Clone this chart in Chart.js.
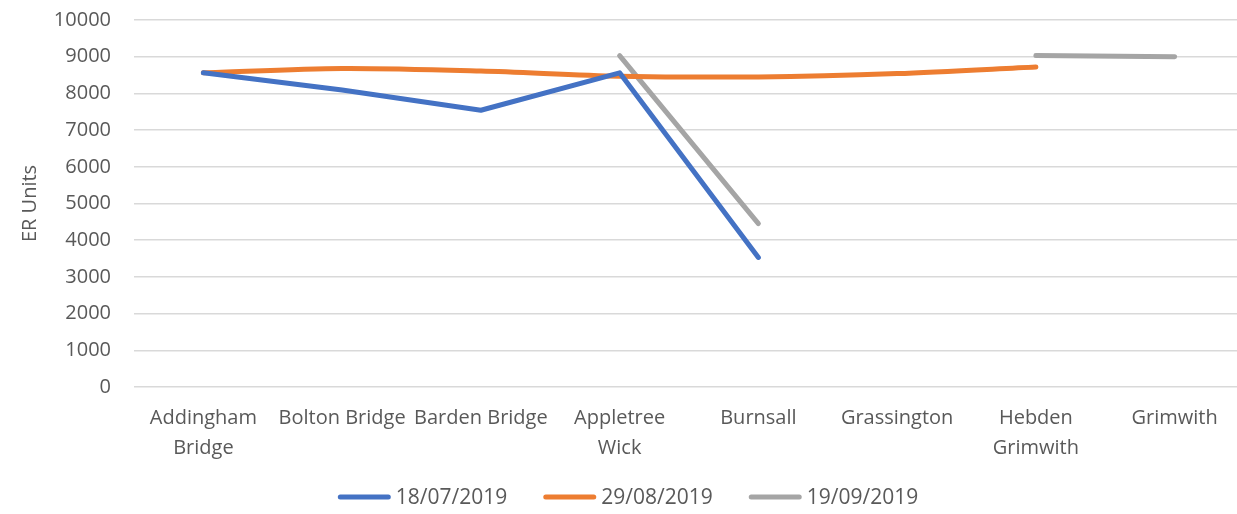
<!DOCTYPE html>
<html>
<head>
<meta charset="utf-8">
<script src="https://cdn.jsdelivr.net/npm/chart.js@4.4.1/dist/chart.umd.min.js"></script>
<style>
html,body{margin:0;padding:0;background:#fff;overflow:hidden;}
#wrap{width:1250px;height:514px;}
</style>
</head>
<body>
<div id="wrap"><canvas id="c" width="1250" height="514"></canvas></div>
<script>
const categories = [["Addingham","Bridge"],"Bolton Bridge","Barden Bridge",["Appletree","Wick"],"Burnsall","Grassington",["Hebden","Grimwith"],"Grimwith"];
const seriesNames = ["18/07/2019","29/08/2019","19/09/2019"];
const series1 = [8560, 8090, 7540, 8560, 3530, null, null, null];
const series2 = [8560, 8680, 8610, 8470, 8450, 8540, 8720, null];
const series3 = [null, null, null, 9030, 4450, null, 9030, 9000];
const yTicks = [0,1000,2000,3000,4000,5000,6000,7000,8000,9000,10000];
const colors = ["#4472C4","#ED7D31","#A5A5A5"];

const FONT = "'Open Sans', sans-serif";
const TXT = "#595959";

const ds = (label, data, color, tension) => ({
  label, data, borderColor: color, backgroundColor: color,
  borderWidth: 5, pointRadius: 0, pointHoverRadius: 0,
  tension, borderCapStyle: 'round', borderJoinStyle: 'round',
  spanGaps: false, fill: false
});

// Custom bottom legend (line sample + text)
const legendPlugin = {
  id: 'customLegend',
  afterDraw(chart) {
    const ctx = chart.ctx;
    const sampleW = 53, gapText = 5, gapItem = 36, cy = 497;
    ctx.save();
    ctx.font = "21px " + FONT;
    const items = chart.data.datasets.map(d => ({ label: d.label, color: d.borderColor, w: ctx.measureText(d.label).width }));
    const total = items.reduce((s, it) => s + sampleW + gapText + it.w, 0) + gapItem * (items.length - 1);
    let x = 628 - total / 2;
    items.forEach(it => {
      ctx.strokeStyle = it.color;
      ctx.lineWidth = 5;
      ctx.lineCap = 'round';
      ctx.beginPath();
      ctx.moveTo(x + 2.5, cy);
      ctx.lineTo(x + sampleW - 2.5, cy);
      ctx.stroke();
      ctx.fillStyle = TXT;
      ctx.textBaseline = 'middle';
      ctx.textAlign = 'left';
      ctx.fillText(it.label, x + sampleW + gapText, cy + 1);
      x += sampleW + gapText + it.w + gapItem;
    });
    ctx.restore();
  }
};

new Chart(document.getElementById('c'), {
  type: 'line',
  data: {
    labels: categories,
    datasets: [
      ds(seriesNames[0], series1, colors[0], 0),
      ds(seriesNames[1], series2, colors[1], 0.3),
      ds(seriesNames[2], series3, colors[2], 0)
    ]
  },
  plugins: [legendPlugin],
  options: {
    responsive: false,
    animation: false,
    devicePixelRatio: 1,
    layout: { padding: { left: 0, right: 6, top: 20, bottom: 35 } },
    plugins: {
      tooltip: { enabled: false },
      legend: { display: false }
    },
    scales: {
      x: {
        offset: true,
        grid: { display: false, drawTicks: false },
        border: { display: false },
        ticks: {
          color: TXT, font: { family: FONT, size: 20, lineHeight: 1.5 },
          padding: 16, maxRotation: 0, autoSkip: false
        }
      },
      y: {
        min: 0, max: 10000,
        afterBuildTicks: (s) => { s.ticks = yTicks.map(v => ({ value: v })); },
        afterFit: (s) => { s.width = 134; s.paddingTop = 0; s.paddingBottom = 0; },
        grid: { color: '#D9D9D9', lineWidth: 1.5, drawTicks: false },
        border: { display: false },
        ticks: { color: TXT, font: { family: FONT, size: 20 }, padding: 23, callback: (v) => String(v) },
        title: {
          display: true, text: 'ER Units', color: TXT,
          font: { family: FONT, size: 20 }, padding: { top: 18, bottom: 0 }
        }
      }
    }
  }
});
</script>
</body>
</html>
